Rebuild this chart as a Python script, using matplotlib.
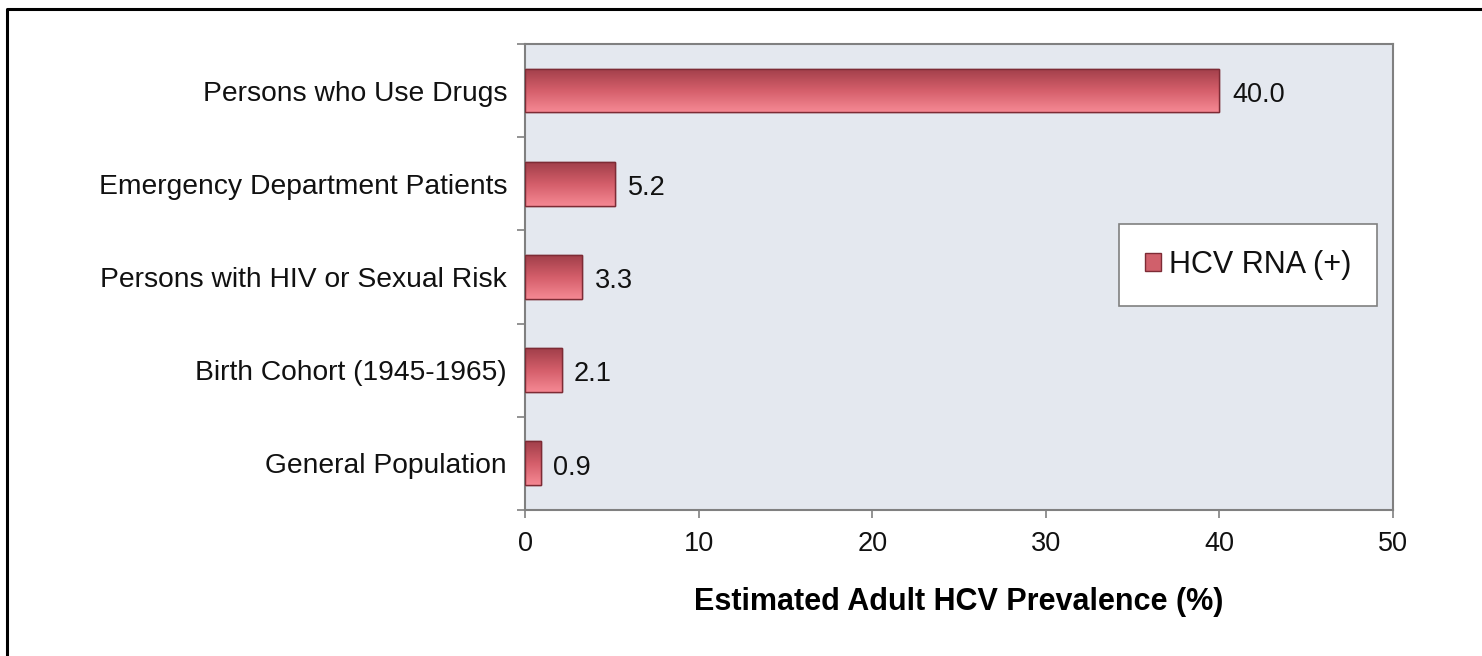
import numpy as np
import matplotlib
matplotlib.use("Agg")
import matplotlib.pyplot as plt
from matplotlib.colors import LinearSegmentedColormap
from matplotlib.lines import Line2D
from matplotlib.patches import Patch

# data (bottom to top as drawn)
groups = ["General Population", "Birth Cohort (1945-1965)",
          "Persons with HIV or Sexual Risk", "Emergency Department Patients",
          "Persons who Use Drugs"]
prevalence = [0.9, 2.1, 3.3, 5.2, 40.0]
series_name = "HCV RNA (+)"
xticks = [0, 10, 20, 30, 40, 50]

INK = "#111111"
PLOT_BG = "#e4e8ef"
SPINE = "#808080"
BAR_EDGE = "#7d2b35"
BAR_MID = "#d0606b"
grad = LinearSegmentedColormap.from_list("bar", ["#f58893", "#d45e6a", "#a13f4a"])

plt.rcParams["font.family"] = ["Liberation Sans", "DejaVu Sans"]
plt.rcParams.update({"text.color": INK, "xtick.color": INK, "ytick.color": INK})

fig = plt.figure(figsize=(14.82, 6.56), dpi=100)
ax = fig.add_axes([0.3543, 0.2226, 0.5857, 0.7104])
ax.set_facecolor(PLOT_BG)

y = np.arange(len(groups))
bars = ax.barh(y, prevalence, height=0.47, color=BAR_MID, edgecolor=BAR_EDGE,
               linewidth=1.0, zorder=2)
# vertical gradient clipped to each bar
g = np.linspace(0, 1, 64).reshape(-1, 1)
for b in bars:
    x0, y0, w, h = b.get_x(), b.get_y(), b.get_width(), b.get_height()
    im = ax.imshow(g, cmap=grad, aspect="auto", origin="lower",
                   extent=(x0, x0 + w, y0, y0 + h), zorder=2.5)
    im.set_clip_path(b)
    ax.add_patch(plt.Rectangle((x0, y0), w, h, fill=False, edgecolor=BAR_EDGE,
                               linewidth=1.0, zorder=3))
    ax.annotate(f"{w:.1f}", (x0 + w, y0 + h / 2), xytext=(9, -3),
                textcoords="offset points", va="center", ha="left", fontsize=19.5)

ax.set_xlim(0, 50)
ax.set_ylim(-0.5, len(groups) - 0.5)
ax.set_xticks(xticks)
ax.set_xticklabels([str(t) for t in xticks], fontsize=19.5)
ax.set_yticks(np.arange(len(groups) + 1) - 0.5)
ax.set_yticklabels([])
ax.set_yticks(y, minor=True)
ax.set_yticklabels(groups, minor=True, fontsize=20.3)
ax.tick_params(axis="y", which="minor", length=0, pad=13)
ax.tick_params(axis="y", which="major", length=6, width=1.2, color=SPINE, direction="out")
ax.tick_params(axis="x", length=6, width=1.2, color=SPINE, direction="out", pad=9)
for s in ax.spines.values():
    s.set_color(SPINE); s.set_linewidth(1.5)

ax.set_xlabel("Estimated Adult HCV Prevalence (%)", fontsize=22, fontweight="bold",
              labelpad=22)

leg = ax.legend(handles=[Patch(facecolor=BAR_MID, edgecolor=BAR_EDGE, label=series_name)],
                loc="upper right", bbox_to_anchor=(0.982, 0.614), fontsize=22,
                fancybox=False, framealpha=1, edgecolor=SPINE, handlelength=0.55,
                handleheight=0.55, handletextpad=0.25, borderpad=0.85, borderaxespad=0)
leg.get_frame().set_linewidth(1.2)

# outer frame lines (left and top only visible in the crop)
fx = 7 / 1482; fy = 1 - 9 / 656
fig.add_artist(Line2D([fx, fx, 1], [0, fy, fy], transform=fig.transFigure,
                      color="black", linewidth=2.2))

fig.savefig("out.png", dpi=100, facecolor="white")
